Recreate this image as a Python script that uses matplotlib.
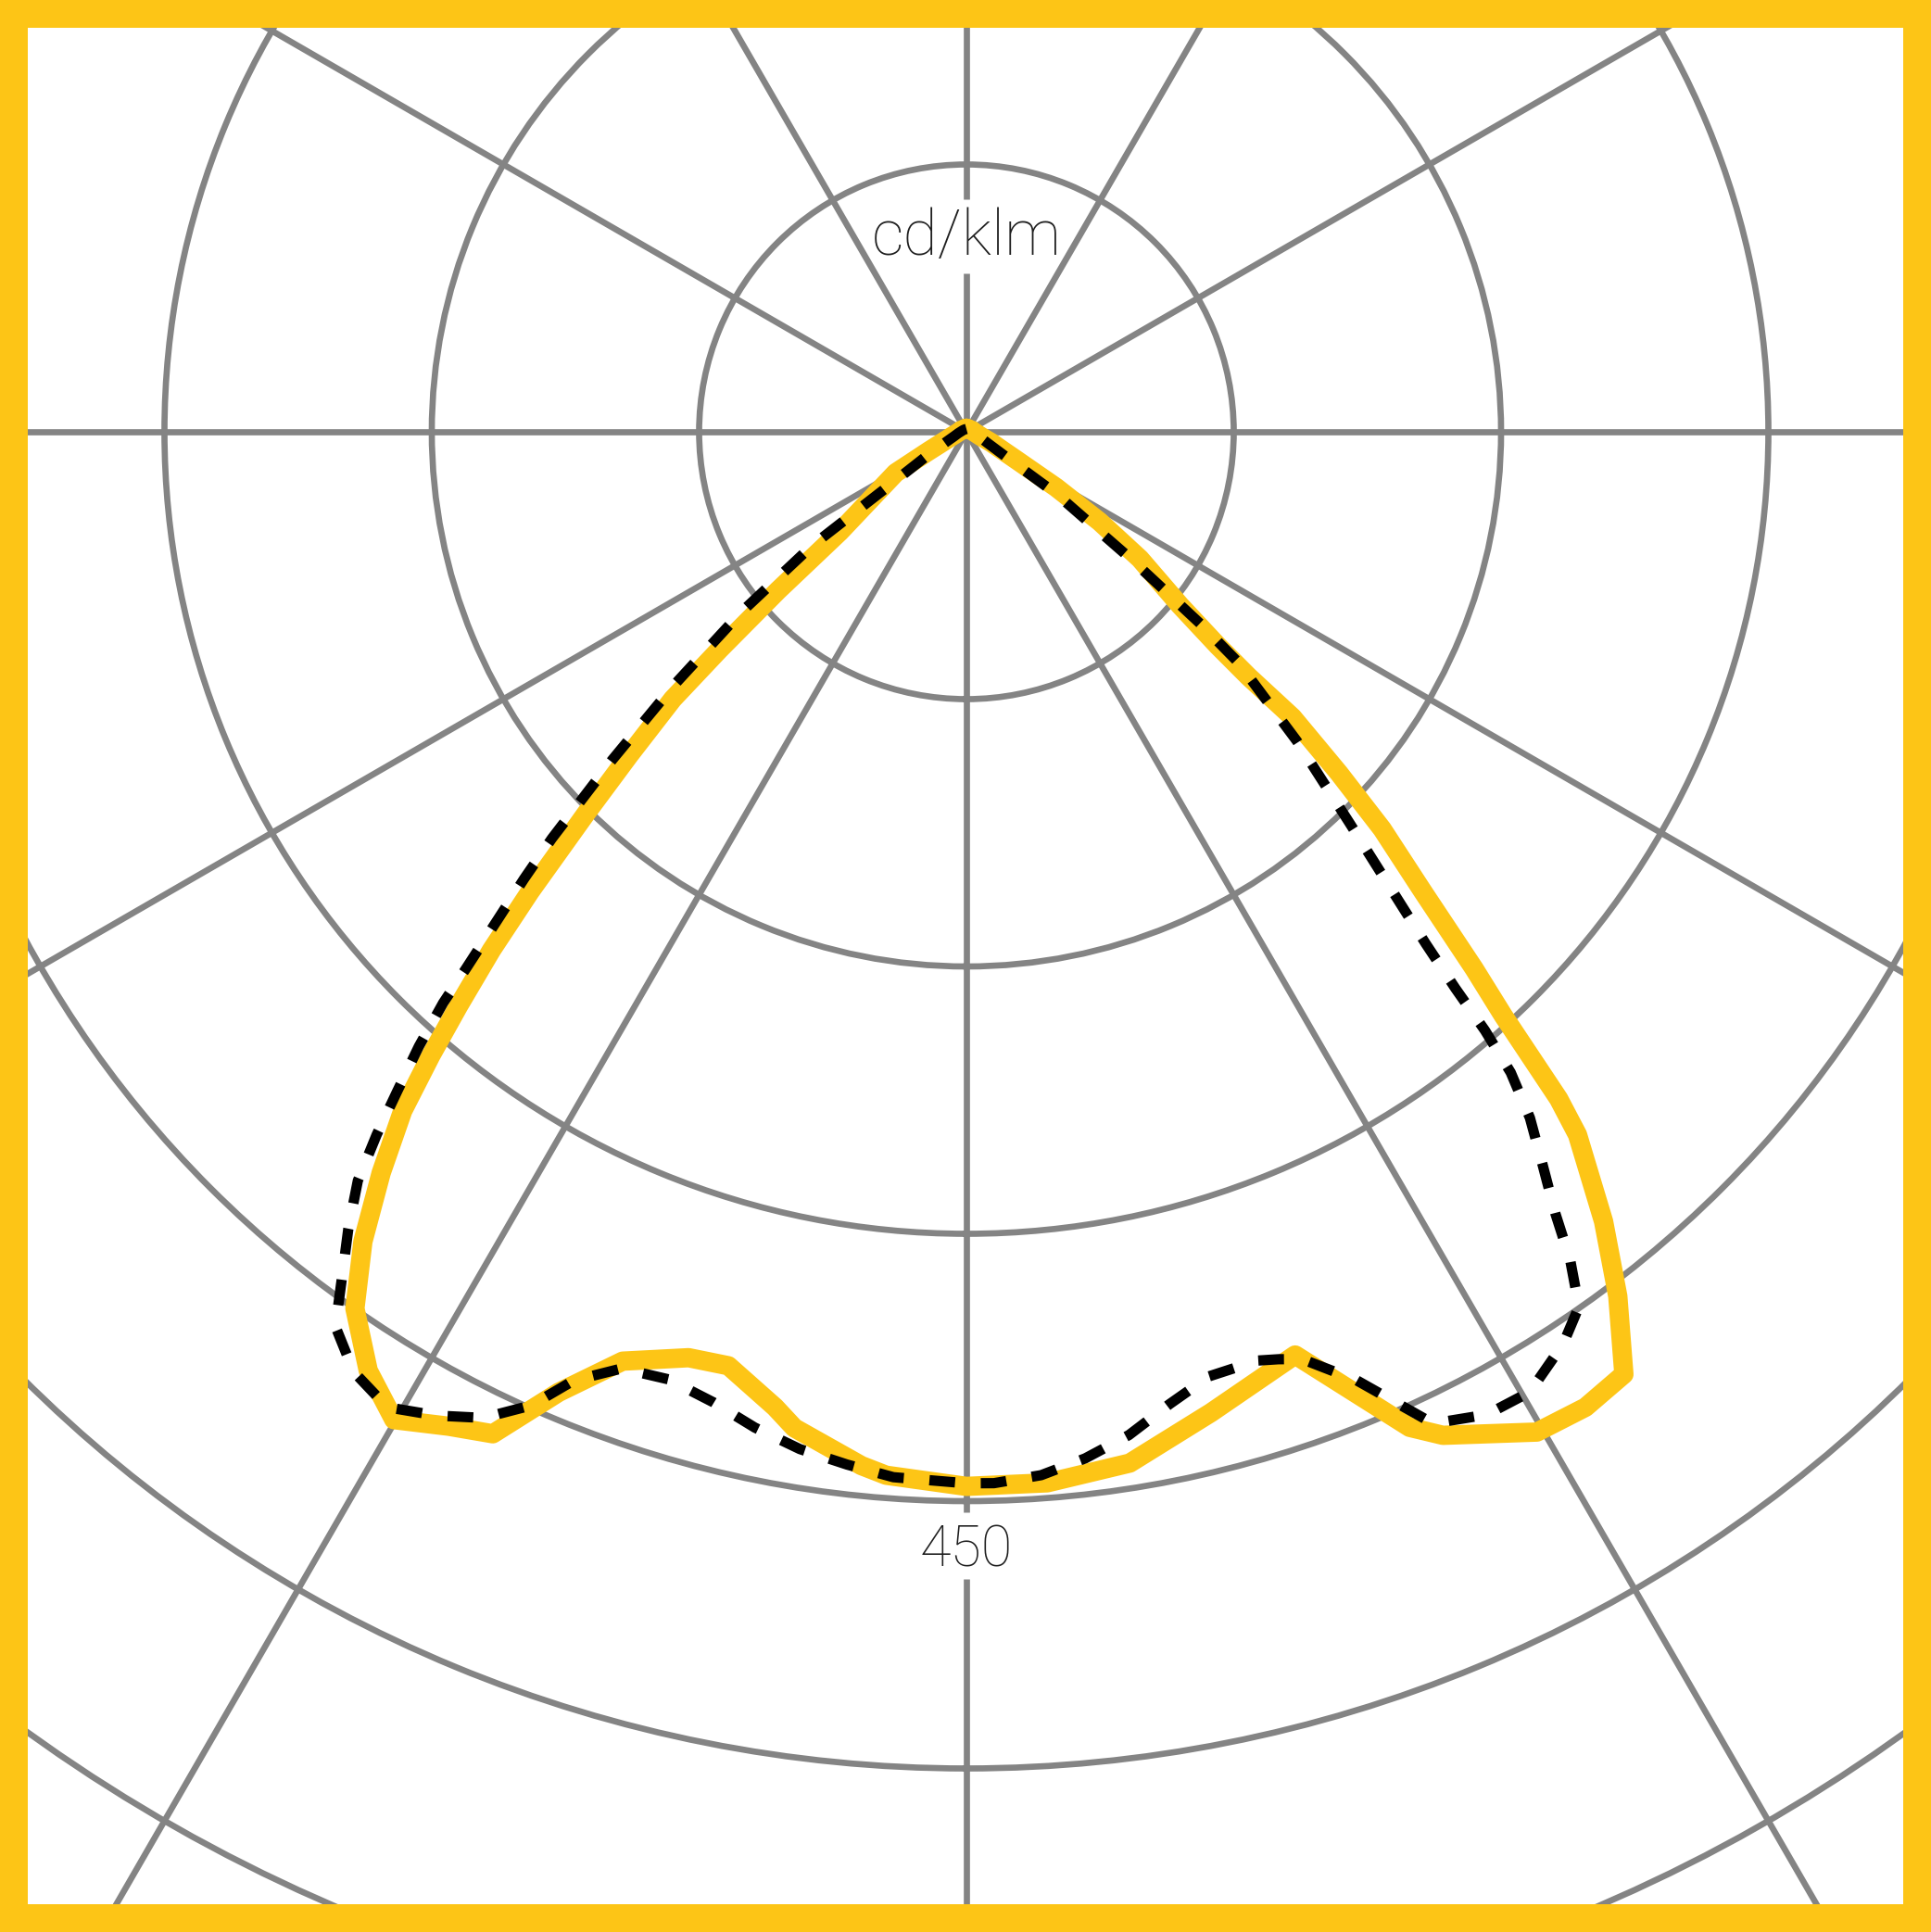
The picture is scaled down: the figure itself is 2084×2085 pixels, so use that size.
import numpy as np
import matplotlib
matplotlib.use("Agg")
import matplotlib.pyplot as plt
from matplotlib.patches import Rectangle

# photometric data, cd/klm, gamma in degrees (0 = nadir, + = right half)
yellow_gamma = [-180, -150, -120, -105, -90, -80, -70, -65, -63, -59.9,
                -51.7, -49.9, -48.6, -47.7, -46.2, -44.9, -43.5, -42.5, -41.5,
                -40.65, -39.7, -38.3, -36.7, -34.9, -32.5, -30.1, -27.5, -25.3,
                -23.0, -20.3, -16.7, -14.3, -11.1, -9.8, -5.8, -4.4, 0,
                4.4, 9.0, 14.0, 19.6, 24.0, 25.4, 29.7, 32.4, 34.9, 37.0, 38.9,
                41.0, 41.6, 42.6, 43.4, 44.8, 46.3, 47.5, 48.8, 49.05, 49.6,
                50.9, 53.8, 56.0, 58.2, 60.7, 66.5, 72, 80, 90, 105, 120, 150, 180]
yellow_cd = [1.5, 1.5, 1.8, 2.4, 3.1, 4.3, 7.8, 12.9, 17.7, 34.4,
             67.8, 103.7, 138.6, 167.1, 196.5, 226.9, 266.7, 295.9, 322.5,
             346.0, 371.4, 397.4, 425.0, 449.8, 468.5, 480.5, 471.8, 466.4,
             439.1, 417.0, 406.8, 405.6, 418.3, 425.4, 437.3, 440.4, 443.8,
             443.6, 439.4, 425.4, 412.4, 458.6, 467.5, 484.6, 486.2, 483.6, 455.5, 427.0,
             392.0, 375.4, 333.8, 311.0, 272.5, 242.0, 212.7, 182.4, 157.2, 138.8,
             115.9, 90.5, 67.6, 44.5, 24.0, 11.4, 6.5, 4.3, 3.1, 2.4, 1.8, 1.5, 1.5]

black_gamma = [-180, -150, -120, -90, -80, -70, -63, -58.7, -55.2, -53.6,
               -51.3, -49.1, -47.2, -45.55, -44.7, -43.0, -42.5, -41.7, -40.8,
               -40.0, -39.1, -37.8, -36.4, -35.2, -33.1, -30.7, -28.3, -26.1,
               -24.1, -22.5, -20.2, -17.45, -14.6, -12.0, -9.3, -6.6, -4.0, 0,
               1.5, 4.1, 6.6, 9.2, 11.8, 14.4, 17.4, 18.6, 19.9, 22.35, 24.2,
               25.2, 27.9, 30.4, 33.2, 35.0, 36.1, 37.0, 38.15, 39.4, 40.35,
               40.9, 41.3, 41.9, 42.55, 44.4, 46.9, 49.7, 50.6, 52.3, 55.4,
               56.8, 62, 70, 80, 90, 120, 150, 180]
black_cd = [1.2, 1.2, 1.5, 2.5, 3.5, 5.5, 10.0, 19.5, 39.4, 80.7,
            121.6, 162.8, 203.1, 244.4, 264.7, 308.7, 325.9, 346.4, 366.6,
            386.1, 406.1, 424.4, 443.0, 460.7, 472.2, 477.4, 470.2, 462.1,
            448.9, 432.2, 420.0, 418.0, 422.1, 428.4, 433.8, 437.5, 441.0, 442.5,
            442.6, 440.2, 434.9, 427.7, 418.0, 410.4, 409.6, 411.8, 415.0, 431.5, 450.2,
            461.2, 468.0, 468.5, 458.7, 449.4, 431.2, 411.8, 392.7, 373.6, 353.8,
            333.3, 311.8, 289.5, 271.3, 230.5, 190.5, 149.9, 128.3, 87.4, 45.9,
            25.0, 10.0, 5.5, 3.5, 2.5, 1.5, 1.2, 1.2]

ring_values = [112.5, 225, 337.5, 450, 562.5, 675]
unit_label = "cd/klm"
ring_label = "450"

YELLOW = "#FDC516"
GREY = "#848484"


def main():
    W, H = 2084, 2085
    fig = plt.figure(figsize=(W / 100, H / 100), dpi=100)

    # polar axes bigger than the figure, centre near the top
    cx, cy = 1043, 466          # pixels from top-left
    px_per_ring = 288.5
    rmax = 787.5
    R = rmax / 112.5 * px_per_ring
    ax = fig.add_axes([(cx - R) / W, (H - cy - R) / H, 2 * R / W, 2 * R / H],
                      projection="polar")
    ax.set_theta_zero_location("S")
    ax.set_theta_direction(1)
    ax.set_ylim(0, rmax)
    ax.set_rticks(ring_values)
    ax.set_thetagrids(np.arange(0, 360, 30))
    ax.set_xticklabels([])
    ax.set_yticklabels([])
    ax.grid(True, color=GREY, linewidth=4.8)
    ax.spines["polar"].set_visible(False)
    ax.tick_params(length=0)

    th_y = np.deg2rad(yellow_gamma)
    th_b = np.deg2rad(black_gamma)
    ax.plot(th_y, yellow_cd, color=YELLOW, linewidth=15,
            solid_joinstyle="round", solid_capstyle="round", zorder=3)
    ax.plot(th_b, black_cd, color="black", linewidth=8,
            dashes=(2.5, 2.5), dash_capstyle="butt", zorder=4)

    # white gaps in the vertical axis line behind the labels
    ax.plot([np.pi, np.pi], [66.6, 97.7], color="white", linewidth=9,
            solid_capstyle="butt", zorder=2.5)
    ax.plot([0, 0], [454.8, 482.8], color="white", linewidth=9,
            solid_capstyle="butt", zorder=2.5)

    font = dict(family=["Roboto", "DejaVu Sans"], weight="light",
                color="#1e1e1e", ha="center", va="center", zorder=5)
    ax.text(np.pi, 81.8, unit_label, fontsize=49, **font)
    ax.text(0, 470.7, ring_label, fontsize=44, **font)

    # yellow frame
    border = 30
    fig.add_artist(Rectangle((0, 0), 1, 1, transform=fig.transFigure,
                             fill=False, edgecolor=YELLOW,
                             linewidth=2 * border * 72 / 100, zorder=10))

    fig.savefig("out.png", dpi=100)


if __name__ == "__main__":
    main()
